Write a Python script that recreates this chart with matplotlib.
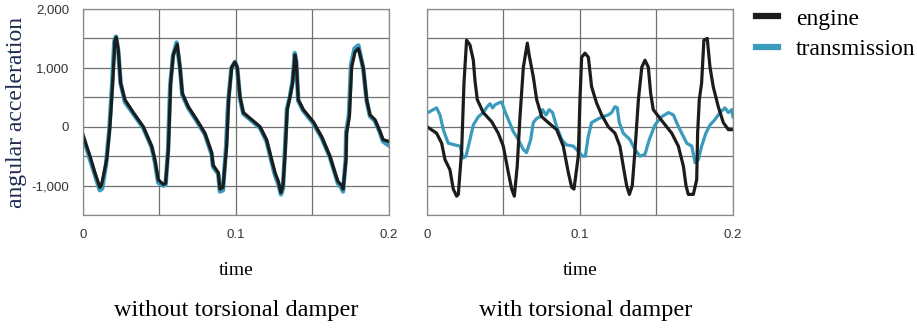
import matplotlib
matplotlib.use("Agg")
import matplotlib.pyplot as plt

# %% Data (time in s, angular acceleration)

# without torsional damper
t_eng_nodamp = [0, 0.0046, 0.0078, 0.011, 0.012, 0.0155, 0.0176, 0.0194, 0.0209, 0.0218,
                0.0231, 0.0246, 0.0274, 0.0329, 0.0394, 0.0449, 0.047, 0.0492, 0.0525, 0.054,
                0.0558, 0.0573, 0.059, 0.0616, 0.0634, 0.0649, 0.0688, 0.0743, 0.0797, 0.0841,
                0.085, 0.0884, 0.0895, 0.0915, 0.0939, 0.0952, 0.0972, 0.0993, 0.1008, 0.1026,
                0.1048, 0.1103, 0.1157, 0.12, 0.1233, 0.1255, 0.1277, 0.1294, 0.1307, 0.132,
                0.1335, 0.1353, 0.137, 0.1386, 0.1394, 0.1407, 0.144, 0.1505, 0.156, 0.1614,
                0.1647, 0.1666, 0.1691, 0.17, 0.1719, 0.1723, 0.1741, 0.1756, 0.1778, 0.18,
                0.1832, 0.1854, 0.1876, 0.1908, 0.1941, 0.1961, 0.2]
a_eng_nodamp = [-150, -500, -780, -1030, -1000, -560, 0, 740, 1470, 1520,
                1300, 740, 460, 240, 0, -330, -560, -900, -980, -960,
                -390, 740, 1220, 1400, 1010, 570, 340, 120, -110, -440,
                -650, -780, -1060, -1030, -330, 460, 1010, 1100, 1010, 510,
                240, 120, 0, -220, -560, -780, -930, -1120, -1000, -500,
                290, 510, 740, 1220, 1100, 460, 290, 85, -170, -500,
                -780, -930, -1000, -1060, -560, -110, 170, 1010, 1270, 1330,
                1000, 460, 200, 120, -80, -220, -250]

t_tra_nodamp = [0, 0.0046, 0.0078, 0.011, 0.0125, 0.015, 0.0172, 0.019, 0.0205, 0.0215,
                0.023, 0.0246, 0.0274, 0.0329, 0.0394, 0.0449, 0.047, 0.0492, 0.0525, 0.054,
                0.0556, 0.057, 0.0588, 0.0612, 0.0634, 0.0649, 0.0688, 0.0743, 0.0797, 0.0841,
                0.085, 0.0884, 0.0895, 0.0915, 0.0935, 0.095, 0.097, 0.0993, 0.1008, 0.1026,
                0.1048, 0.1103, 0.1157, 0.12, 0.1233, 0.1255, 0.1277, 0.1294, 0.1307, 0.1318,
                0.1333, 0.1353, 0.137, 0.1384, 0.1394, 0.1407, 0.144, 0.1505, 0.156, 0.1614,
                0.1647, 0.1666, 0.1691, 0.17, 0.1717, 0.172, 0.1738, 0.1752, 0.1775, 0.18,
                0.1832, 0.1854, 0.1876, 0.1908, 0.1941, 0.1961, 0.2]
a_tra_nodamp = [-150, -560, -820, -1080, -1050, -650, -50, 700, 1450, 1530,
                1300, 740, 420, 220, -20, -350, -600, -950, -1000, -980,
                -400, 700, 1200, 1430, 1000, 540, 320, 100, -130, -470,
                -680, -800, -1100, -1080, -350, 450, 1000, 1100, 1000, 480,
                220, 100, -20, -250, -600, -820, -980, -1150, -1050, -500,
                300, 520, 780, 1250, 1100, 440, 270, 60, -190, -520,
                -800, -960, -1050, -1100, -560, -100, 200, 1050, 1330, 1380,
                980, 440, 180, 100, -100, -250, -320]

# with torsional damper
t_eng_damp = [0, 0.0063, 0.0096, 0.0118, 0.015, 0.0172, 0.0194, 0.0205, 0.0227, 0.0242,
              0.0259, 0.0281, 0.0303, 0.0314, 0.0329, 0.0368, 0.0423, 0.0466, 0.0499, 0.0532,
              0.0554, 0.0571, 0.059, 0.0608, 0.063, 0.0656, 0.0667, 0.0695, 0.0717, 0.075,
              0.0793, 0.0848, 0.0891, 0.0924, 0.0946, 0.0961, 0.0989, 0.1, 0.1011, 0.1033,
              0.1055, 0.1076, 0.1109, 0.1142, 0.1185, 0.1229, 0.1261, 0.1283, 0.1305, 0.1323,
              0.1342, 0.136, 0.1382, 0.1404, 0.1425, 0.1447, 0.1462, 0.1479, 0.1545, 0.16,
              0.1643, 0.1676, 0.1693, 0.1708, 0.1741, 0.1763, 0.1769, 0.178, 0.1795, 0.181,
              0.1832, 0.185, 0.1871, 0.1904, 0.1937, 0.197, 0.2]
a_eng_damp = [0, -110, -280, -560, -730, -1060, -1180, -1150, -390, 740,
              1470, 1390, 1130, 780, 460, 240, 85, -110, -330, -780,
              -1060, -1180, -670, 170, 1010, 1420, 1230, 850, 460, 170,
              70, -50, -330, -780, -1030, -1060, -500, 460, 1180, 1250,
              1180, 680, 400, 200, 0, -110, -330, -670, -1000, -1150,
              -1000, -390, 460, 1010, 1130, 1010, 570, 290, 70, -110,
              -330, -670, -1000, -1150, -1150, -900, -110, 460, 740, 1470,
              1500, 1010, 680, 340, 70, -50, -50]

t_tra_damp = [0, 0.0041, 0.0063, 0.0085, 0.0107, 0.0139, 0.0183, 0.0216, 0.0237, 0.0255,
              0.0281, 0.0303, 0.0336, 0.0368, 0.0394, 0.0412, 0.0429, 0.0444, 0.0466, 0.0488,
              0.051, 0.0532, 0.0564, 0.0597, 0.063, 0.0651, 0.0678, 0.0695, 0.0717, 0.0739,
              0.0756, 0.0778, 0.0799, 0.0821, 0.0848, 0.0881, 0.0913, 0.0957, 0.1018, 0.1035,
              0.1054, 0.1076, 0.1109, 0.1148, 0.1185, 0.1207, 0.1229, 0.1244, 0.1257, 0.1283,
              0.1327, 0.136, 0.1392, 0.1425, 0.1453, 0.149, 0.1534, 0.1578, 0.1611, 0.1632,
              0.1665, 0.1698, 0.1731, 0.1752, 0.1774, 0.1795, 0.1823, 0.185, 0.1882, 0.1915,
              0.1948, 0.197, 0.1992, 0.2]
a_tra_damp = [230, 290, 320, 200, -50, -280, -310, -330, -530, -500,
              -220, 30, 170, 240, 340, 390, 320, 370, 400, 420,
              260, 120, -80, -220, -390, -440, -220, 70, 140, 170,
              290, 200, 290, 240, 0, -220, -310, -330, -500, -500,
              -170, 70, 120, 170, 200, 240, 340, 320, 70, -110,
              -220, -390, -500, -470, -220, 30, 170, 240, 200, 70,
              -110, -280, -330, -610, -560, -330, -110, 30, 120, 240,
              320, 240, 290, 170]

y_ticks = [-1500, -1000, -500, 0, 500, 1000, 1500, 2000]
y_tick_labels = ['', '-1,000', '', '0', '', '1,000', '', '2,000']
x_ticks = [0, 0.05, 0.1, 0.15, 0.2]
x_tick_labels = ['0', '', '0.1', '', '0.2']

# %% Plot

c_eng = '#1c1c1c'
c_tra = '#3a9bbd'
serif = 'Liberation Serif'
tick_font = ['Liberation Sans Narrow', 'Liberation Sans']

fig = plt.figure(figsize=(9.17, 3.30), dpi=100)
ax1 = fig.add_axes([0.0905, 0.3485, 0.3337, 0.6242])
ax2 = fig.add_axes([0.4656, 0.3485, 0.3337, 0.6242])

ax1.plot(t_tra_nodamp, a_tra_nodamp, color=c_tra, lw=3.2, solid_joinstyle='round')
ax1.plot(t_eng_nodamp, a_eng_nodamp, color=c_eng, lw=2.3, solid_joinstyle='round')
ax2.plot(t_tra_damp, a_tra_damp, color=c_tra, lw=2.3, solid_joinstyle='round', label='transmission')
ax2.plot(t_eng_damp, a_eng_damp, color=c_eng, lw=2.3, solid_joinstyle='round', label='engine')

for ax in (ax1, ax2):
    ax.set_xlim(0, 0.2)
    ax.set_ylim(-1500, 2000)
    ax.set_xticks(x_ticks)
    ax.set_yticks(y_ticks)
    ax.grid(True, color='#707070', lw=0.9)
    ax.set_axisbelow(True)
    for s in ax.spines.values():
        s.set_color('#8a8a8a')
        s.set_linewidth(0.9)
    ax.tick_params(length=0, pad=10, labelsize=9.5, labelcolor='#333333')
    ax.set_xticklabels(x_tick_labels, family=tick_font)

ax1.set_yticklabels(y_tick_labels, family=tick_font)
ax2.set_yticklabels([])
ax1.set_ylabel('angular acceleration', family=serif, fontsize=17, color='#1d2b50', labelpad=3)

fig.text(0.2574, 0.1818, 'time', family=serif, fontsize=14, ha='center', va='center')
fig.text(0.6325, 0.1818, 'time', family=serif, fontsize=14, ha='center', va='center')
fig.text(0.2574, 0.0606, 'without torsional damper', family=serif, fontsize=17.5, ha='center', va='center')
fig.text(0.639, 0.0606, 'with torsional damper', family=serif, fontsize=17.5, ha='center', va='center')

h, l = ax2.get_legend_handles_labels()
leg = fig.legend(h[::-1], l[::-1], loc='upper left', bbox_to_anchor=(0.801, 1.04),
                 frameon=False, prop={'family': serif, 'size': 17},
                 handlelength=0.95, handletextpad=0.75, labelspacing=0.38)
for line in leg.get_lines():
    line.set_linewidth(4.5)

fig.savefig('out.png', dpi=100)
